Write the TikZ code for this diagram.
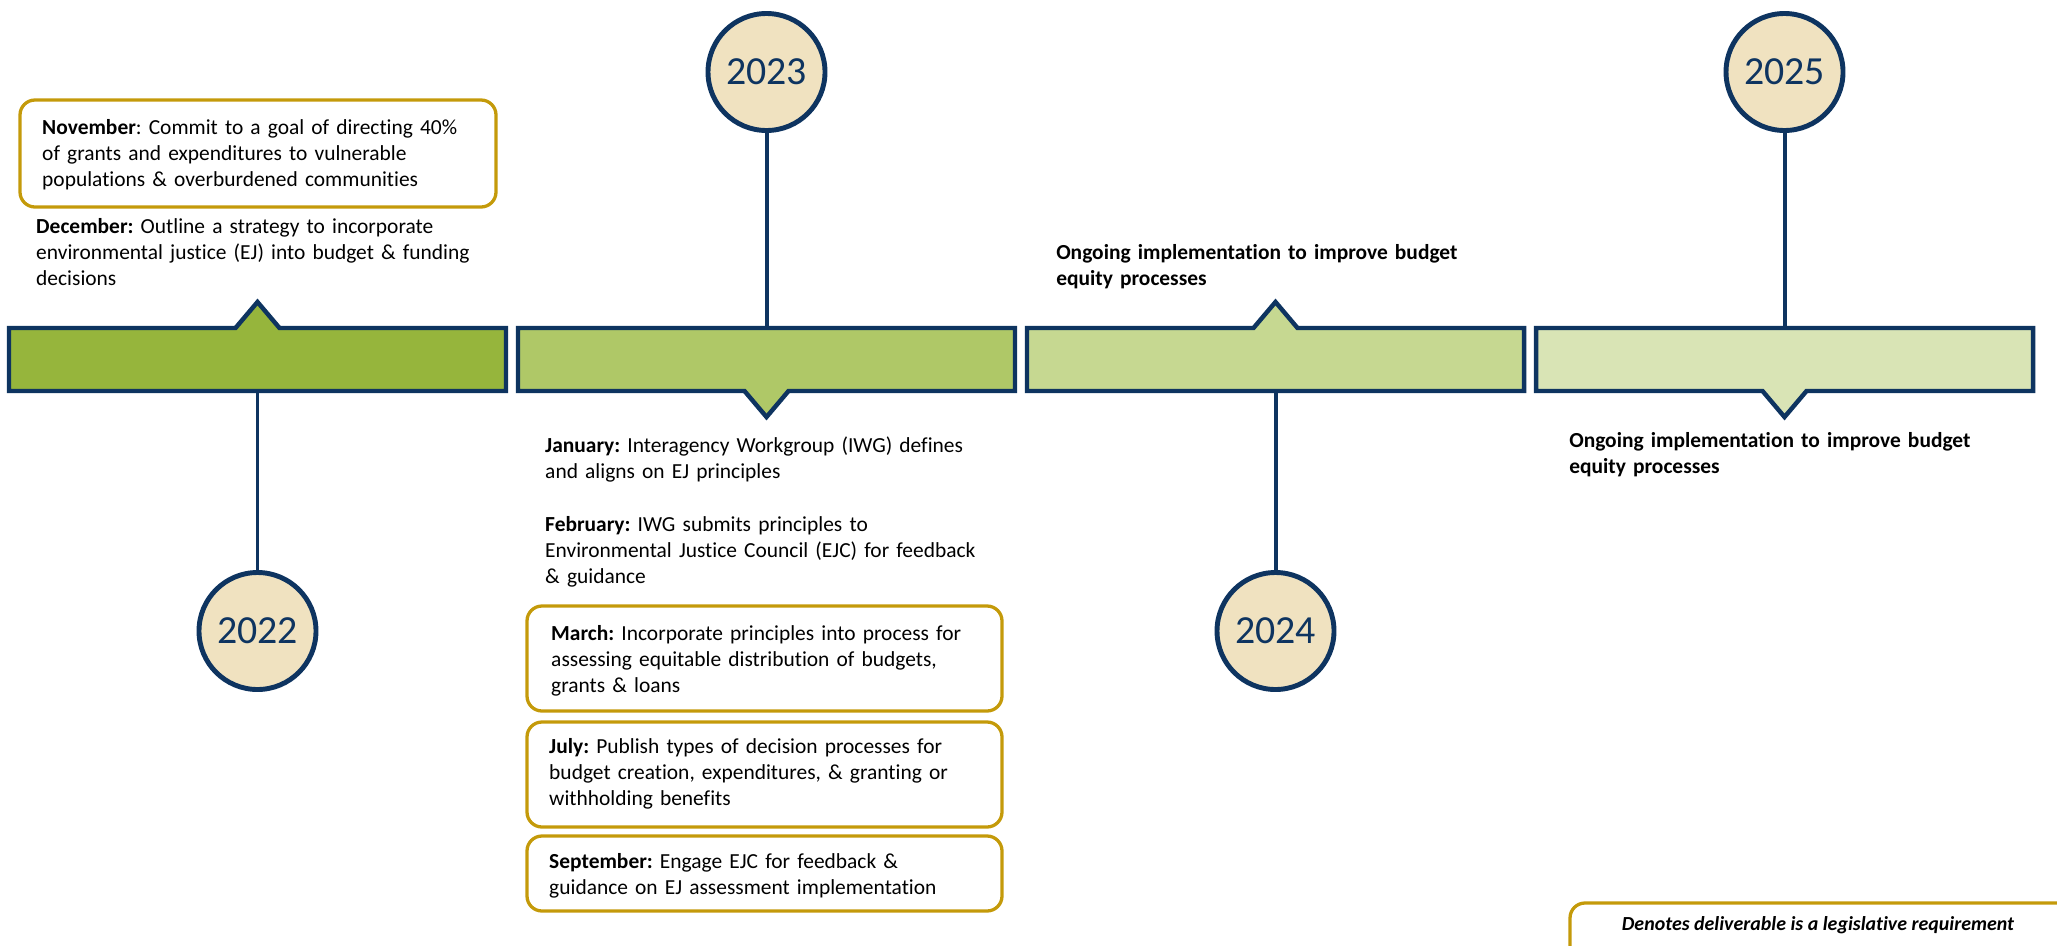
\documentclass[tikz,border=0pt]{standalone}
\usepackage{fontspec}
\setmainfont{Carlito}[Ligatures=NoCommon]
\frenchspacing

\definecolor{navy}{RGB}{14,52,96}
\definecolor{cream}{RGB}{240,226,192}
\definecolor{gold}{RGB}{196,154,10}
\definecolor{barA}{RGB}{150,181,60}
\definecolor{barB}{RGB}{175,200,103}
\definecolor{barC}{RGB}{198,216,145}
\definecolor{barD}{RGB}{217,228,181}

\newcommand\txtsize{\fontsize{18.3}{22.6}\selectfont}

\tikzset{
	year/.style={circle, draw=navy, line width=4.2pt, fill=cream, minimum size=3.51cm,
		inner sep=0pt, text=navy, font=\fontsize{34}{40}\selectfont},
	stem/.style={draw=navy, line width=3.4pt},
	barbox/.style={draw=navy, line width=3.8pt, line join=miter},
	goldbox/.style={draw=gold, line width=2.8pt, rounded corners=0.45cm},
	entry/.style={anchor=base west, inner sep=0pt, text width=16cm, align=left, font=\txtsize},
}

\begin{document}
\begin{tikzpicture}[x=0.03cm, y=-0.03cm]

\useasboundingbox (0,0) rectangle (2057,945);

\def \bw {497}   % bar width
\def \dx {509}   % bar pitch
\def \yt {328}   % bar top
\def \yb {391}   % bar bottom
\def \nh {26}    % notch height
\def \nw {22}    % notch half width

%bars
\foreach \i/\c/\up in {0/barA/1, 1/barB/0, 2/barC/1, 3/barD/0}{
	\pgfmathsetmacro\xl{9+\dx*\i}
	\pgfmathsetmacro\xr{\xl+\bw}
	\pgfmathsetmacro\xm{\xl+\bw/2}
	\pgfmathsetmacro\ty{\yt-\nh*\up}
	\pgfmathsetmacro\by{\yb+\nh*(1-\up)}
	\draw[barbox, fill=\c] (\xl,\yt) -- (\xm-\nw,\yt) -- (\xm,\ty) -- (\xm+\nw,\yt) -- (\xr,\yt)
		-- (\xr,\yb) -- (\xm+\nw,\yb) -- (\xm,\by) -- (\xm-\nw,\yb) -- (\xl,\yb) -- cycle;
	\coordinate (top\i) at (\xm,\yt);
	\coordinate (bot\i) at (\xm,\yb);
}

%years
\node[year] (y2022) at (257.5,631) {2022};
\node[year] (y2023) at (766.5,72) {2023};
\node[year] (y2024) at (1275.5,631) {2024};
\node[year] (y2025) at (1784.5,72) {2025};

\draw[stem] (bot0) -- (y2022);
\draw[stem] (top1) -- (y2023);
\draw[stem] (bot2) -- (y2024);
\draw[stem] (top3) -- (y2025);

%legislative boxes
\draw[goldbox] (20,100) rectangle (496,207);
\draw[goldbox] (527,606) rectangle (1002,711);
\draw[goldbox] (527,722) rectangle (1002,827);
\draw[goldbox] (527,836) rectangle (1002,911);
\draw[goldbox] (1570,903) rectangle (2090,980);

%2022
\node[entry] (nov) at (42,134) {\textbf{November}: Commit to a goal of directing 40\%\\
	of grants and expenditures to vulnerable\\
	populations \& overburdened communities};
\node[entry] (dec) at (36,233) {\textbf{December:} Outline a strategy to incorporate\\
	environmental justice (EJ) into budget \& funding\\
	decisions};

%2023
\node[entry] (jan) at (545,452) {\textbf{January:} Interagency Workgroup (IWG) defines\\
	and aligns on EJ principles};
\node[entry] (feb) at (545,531) {\textbf{February:} IWG submits principles to\\
	Environmental Justice Council (EJC) for feedback\\
	\& guidance};
\node[entry] (mar) at (551,640) {\textbf{March:} Incorporate principles into process for\\
	assessing equitable distribution of budgets,\\
	grants \& loans};
\node[entry] (jul) at (549,753) {\textbf{July:} Publish types of decision processes for\\
	budget creation, expenditures, \& granting or\\
	withholding benefits};
\node[entry] (sep) at (549,868) {\textbf{September:} Engage EJC for feedback \&\\
	guidance on EJ assessment implementation};

%2024 & 2025
\node[entry, font=\txtsize\bfseries] (ong24) at (1056,259) {Ongoing implementation to improve budget\\
	equity processes};
\node[entry, font=\txtsize\bfseries] (ong25) at (1569,447) {Ongoing implementation to improve budget\\
	equity processes};

%legend
\node[anchor=base, inner sep=0pt, font=\fontsize{17}{20}\selectfont\bfseries\itshape] (legend) at (1818,930)
	{Denotes deliverable is a legislative requirement};

\end{tikzpicture}
\end{document}
